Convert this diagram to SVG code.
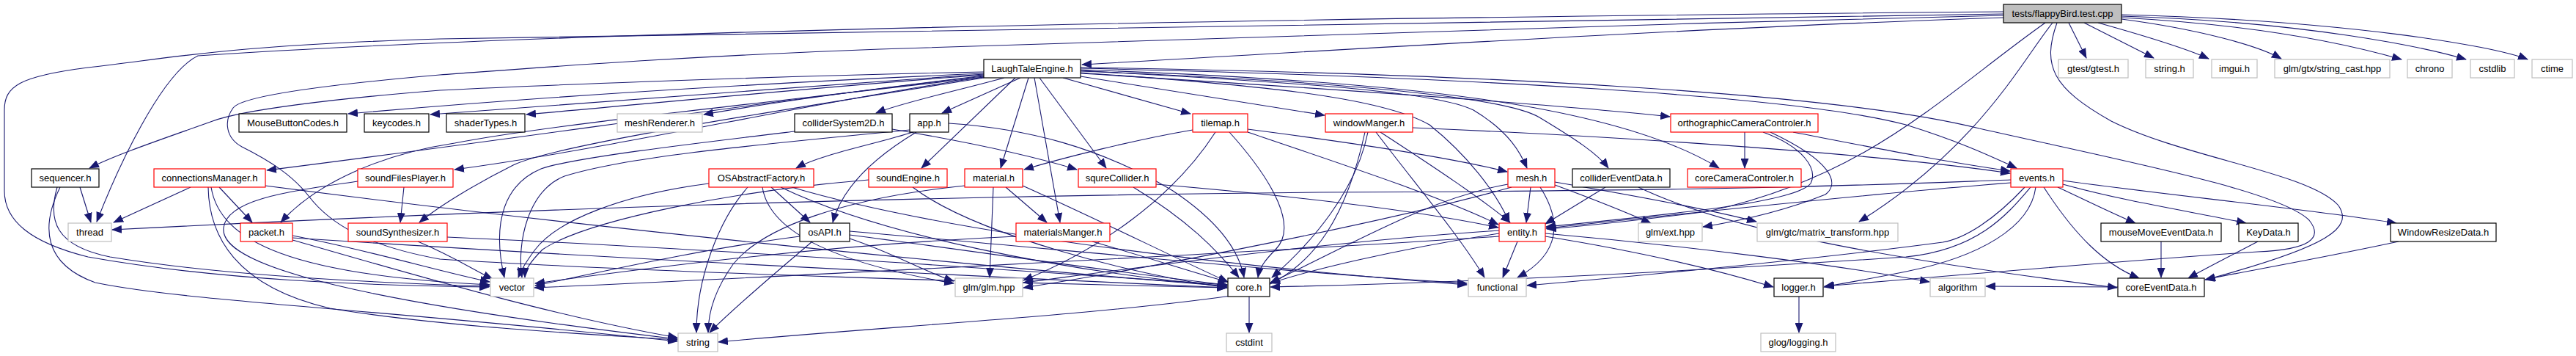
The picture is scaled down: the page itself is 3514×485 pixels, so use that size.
<svg xmlns="http://www.w3.org/2000/svg" width="3514" height="485" viewBox="0 0 3514 485">
<style>
rect{fill:#fff;stroke-width:1.2}
.b{stroke:#000}
.g{stroke:#bfbfbf}
.r{stroke:#ff0000}
.root{fill:#bfbfbf;stroke:#000}
text{font-family:"Liberation Sans",Arial,Helvetica,sans-serif;font-size:13px;text-anchor:middle;fill:#000}
#edges path{fill:none;stroke:#191970;stroke-width:1.1;marker-end:url(#a)}
</style>
<defs>
<marker id="a" markerUnits="userSpaceOnUse" markerWidth="14" markerHeight="11" refX="13" refY="5.5" orient="auto"><path d="M0,0 L14,5.5 L0,11 z" fill="#191970" stroke="none"/></marker>
</defs>
<rect x="0" y="0" width="3514" height="485" style="fill:#fff;stroke:none"/>
<g id="edges">
<!-- root -->
<path d="M2733,24 C2300,38 1800,70 1476,88"/>
<path d="M2822,31 L2846,79"/>
<path d="M2843,31 L2938,79"/>
<path d="M2862,31 C2930,50 2980,65 3013,80"/>
<path d="M2894,26 C3000,40 3080,62 3112,80"/>
<path d="M2894,24 C3100,35 3220,65 3276,81"/>
<path d="M2894,22 C3150,30 3310,65 3364,81"/>
<path d="M2894,20 C3200,28 3400,62 3448,81"/>
<path d="M2733,16 C1800,24 800,40 270,76 C220,100 160,230 132,302"/>
<path d="M2733,19 C1800,28 900,46 600,53 C300,62 230,80 120,92 C25,104 6,118 6,150 L6,260 C6,300 40,330 120,350 C300,382 500,389 667,391"/>
<path d="M2733,21 C2200,33 1600,55 1200,67 C900,78 700,95 600,102 C450,115 330,130 318,147 C305,165 308,188 330,200 C370,220 400,240 421,267 C450,305 500,335 600,353 C900,372 1400,386 1673,392"/>
<path d="M2800,31 C2760,80 2700,200 2536,302"/>
<path d="M2790,31 C2650,130 2550,240 2330,288 C2220,302 2160,308 2110,312"/>
<path d="M2806,31 C2785,90 2800,120 2880,165 C2980,215 3150,235 3190,280 C3210,310 3180,335 3009,381"/>
<!-- LaughTaleEngine.h -->
<path d="M1342,98 C1000,105 700,118 600,123 C450,135 330,150 290,165 C220,190 160,210 122,229"/>
<path d="M1342,100 C1000,115 700,135 475,155"/>
<path d="M1342,101 C1100,118 800,140 587,156"/>
<path d="M1342,102 C1100,120 900,140 718,156"/>
<path d="M1342,103 C1200,120 1050,140 960,156"/>
<path d="M1370,106 C1300,125 1230,140 1195,154"/>
<path d="M1392,106 L1285,154"/>
<path d="M1342,104 C1100,130 700,190 364,232"/>
<path d="M1342,105 C1100,140 850,200 620,231"/>
<path d="M1342,105 C1000,145 750,170 620,195 C520,210 430,250 383,303"/>
<path d="M1342,106 C1000,160 750,200 700,225 C650,250 600,280 572,303"/>
<path d="M1385,106 L1257,229"/>
<path d="M1403,106 L1365,229"/>
<path d="M1411,106 L1446,303"/>
<path d="M1418,106 L1509,229"/>
<path d="M1450,106 L1624,155"/>
<path d="M1474,104 L1807,157"/>
<path d="M1474,100 C1800,120 2100,140 2278,159"/>
<path d="M1474,96 C1700,110 1950,120 2010,150 C2060,180 2075,210 2083,229"/>
<path d="M1474,97 C1800,110 2050,130 2100,160 C2150,190 2180,210 2194,229"/>
<path d="M1474,95 C1900,110 2200,140 2345,229"/>
<path d="M1474,93 C2000,105 2450,130 2600,170 C2680,195 2720,215 2751,229"/>
<path d="M1474,99 C1700,115 1880,130 1950,170 C2000,210 2040,260 2059,303"/>
<path d="M1474,92 C2000,100 2500,125 2700,175 C2900,220 3110,260 3150,300 C3170,325 3150,340 3080,343 C2900,355 2700,372 2489,390"/>
<!-- app.h -->
<path d="M1245,180 C1200,195 1120,210 1086,229"/>
<path d="M1250,180 C1200,210 1150,250 1136,303"/>
<path d="M1294,168 C1400,175 1500,200 1600,260 C1660,300 1690,340 1697,378"/>
<path d="M1241,177 C1000,200 850,215 770,240 C720,260 705,330 712,378"/>
<!-- colliderSystem2D.h -->
<path d="M1217,176 C1300,190 1400,210 1469,231"/>
<path d="M1084,179 C950,195 780,215 738,230 C690,250 670,300 688,378"/>
<!-- OSAbstractFactory.h -->
<path d="M967,250 C850,265 760,300 730,340 C715,360 710,370 707,378"/>
<path d="M1020,255 C980,300 950,380 950,453"/>
<path d="M1052,255 L1105,303"/>
<path d="M1040,255 C1050,320 1150,360 1301,386"/>
<path d="M1065,255 C1200,320 1450,370 1674,390"/>
<path d="M1080,255 C1300,320 1700,365 2001,388"/>
<!-- osAPI.h -->
<path d="M1091,322 C950,340 800,375 730,389"/>
<path d="M1108,329 C1060,370 1000,420 968,453"/>
<path d="M1159,325 C1220,345 1260,370 1301,383"/>
<path d="M1159,320 C1350,345 1550,375 1674,388"/>
<path d="M1159,315 C1450,340 1800,375 2001,386"/>
<!-- soundEngine.h -->
<path d="M1185,245 C1000,260 800,300 740,340 C720,360 716,370 716,378"/>
<path d="M1245,255 C1330,320 1550,375 1674,392"/>
<!-- material.h -->
<path d="M1355,255 L1350,378"/>
<path d="M1372,255 L1428,303"/>
<path d="M1395,253 C1500,300 1600,350 1675,384"/>
<path d="M1316,253 C1150,270 1040,310 1000,360 C975,395 966,425 966,453"/>
<!-- squreCollider.h -->
<path d="M1546,255 C1620,300 1660,340 1690,378"/>
<path d="M1577,251 C1800,270 1950,290 2044,310"/>
<!-- materialsManger.h -->
<path d="M1386,322 C1100,335 850,370 730,386"/>
<path d="M1490,329 C1580,355 1640,375 1675,384"/>
<!-- tilemap.h -->
<path d="M1627,177 C1550,190 1450,215 1397,231"/>
<path d="M1658,180 C1600,270 1500,340 1396,382"/>
<path d="M1677,180 C1740,250 1770,310 1740,340 C1725,355 1718,365 1716,378"/>
<path d="M1702,176 C1850,195 1980,215 2056,234"/>
<path d="M1702,180 C1850,230 1970,270 2044,306"/>
<!-- windowManger.h -->
<path d="M1927,174 C2300,190 2600,215 2742,236"/>
<path d="M1883,180 C1960,230 2020,270 2060,303"/>
<path d="M1877,180 C1930,250 1990,320 2025,378"/>
<path d="M1866,180 C1850,260 1790,330 1735,378"/>
<path d="M1862,180 C1840,280 1800,370 1700,400 C1500,430 1200,445 980,466"/>
<!-- mesh.h -->
<path d="M2088,255 L2082,303"/>
<path d="M2101,255 C2130,300 2130,345 2070,378"/>
<path d="M2121,252 C2170,270 2220,290 2252,304"/>
<path d="M2121,248 C2250,270 2350,290 2396,302"/>
<path d="M2057,251 C1950,270 1850,330 1733,385"/>
<path d="M2062,255 C1900,300 1600,360 1396,392"/>
<!-- colliderEventData.h -->
<path d="M2190,255 L2108,305"/>
<path d="M2235,255 C2350,310 2550,350 2888,392"/>
<!-- orthographicCameraControler.h -->
<path d="M2380,180 L2380,229"/>
<path d="M2446,180 C2550,200 2650,220 2742,233"/>
<path d="M2405,180 C2460,200 2480,230 2470,250 C2450,275 2300,290 2109,309"/>
<path d="M2415,180 C2500,220 2510,250 2490,265 C2440,285 2380,300 2323,309"/>
<!-- events.h -->
<path d="M2807,255 C2850,275 2880,290 2913,304"/>
<path d="M2814,251 C2900,275 3000,290 3064,304"/>
<path d="M2814,246 C2950,265 3150,285 3269,304"/>
<path d="M2788,255 C2830,320 2870,360 2918,379"/>
<path d="M2777,255 C2770,310 2700,350 2600,370 C2550,380 2520,385 2488,391"/>
<path d="M2762,255 C2720,300 2680,325 2650,330 C2500,350 2300,370 2083,389"/>
<path d="M2770,255 C2740,290 2700,340 2600,350 C2300,370 2000,385 1733,391"/>
<path d="M2743,249 C2600,260 2400,280 2109,311"/>
<path d="M2743,245 C2600,250 2400,260 1800,262 C1200,268 700,285 153,313"/>
<!-- entity.h -->
<path d="M2070,329 L2050,378"/>
<path d="M2045,318 C1900,340 1780,370 1733,386"/>
<path d="M2045,314 C1800,330 1550,365 1396,385"/>
<path d="M2108,322 C2250,345 2350,370 2419,391"/>
<path d="M2108,318 C2300,335 2500,360 2632,384"/>
<path d="M2045,322 C1700,345 1000,380 729,392"/>
<!-- leaves-ish -->
<path d="M1704,404 L1704,453"/>
<path d="M2454,404 L2454,453"/>
<path d="M2889,391 L2709,390"/>
<path d="M2948,329 L2948,378"/>
<path d="M3080,329 C3040,350 3010,365 2985,379"/>
<path d="M3272,329 C3150,355 3060,370 3008,381"/>
<!-- sequencer.h -->
<path d="M109,255 L124,303"/>
<path d="M78,255 C65,300 75,335 150,350 C300,375 500,385 668,390"/>
<path d="M82,255 C55,310 60,360 130,385 C250,410 500,420 924,465"/>
<!-- connectionsManager.h -->
<path d="M260,255 L155,303"/>
<path d="M299,255 L344,303"/>
<path d="M284,255 C285,320 320,390 450,420 C600,445 800,455 924,463"/>
<path d="M288,255 C300,330 400,375 668,388"/>
<path d="M362,253 C800,310 1300,360 1674,390"/>
<!-- packet.h -->
<path d="M399,321 C500,340 600,370 668,384"/>
<path d="M399,327 C550,370 750,430 924,460"/>
<path d="M399,324 C800,350 1300,375 1674,392"/>
<!-- soundFilesPlayer.h -->
<path d="M551,255 L546,303"/>
<path d="M488,247 C400,260 310,270 305,310 C300,350 400,400 924,462"/>
<!-- soundSynthesizer.h -->
<path d="M570,329 C620,350 650,370 672,380"/>
<path d="M610,323 C1000,340 1400,370 1674,388"/>
</g>
<g id="n_root"><rect class="root" x="2733" y="6" width="161" height="25"/><text x="2813.5" y="23">tests/flappyBird.test.cpp</text></g>
<g id="n_lte"><rect class="b" x="1342" y="81" width="132" height="25"/><text x="1408" y="98">LaughTaleEngine.h</text></g>
<g id="n_gtest"><rect class="g" x="2808" y="81" width="95" height="25"/><text x="2855.5" y="98">gtest/gtest.h</text></g>
<g id="n_stringh"><rect class="g" x="2927" y="81" width="65" height="25"/><text x="2959.5" y="98">string.h</text></g>
<g id="n_imgui"><rect class="g" x="3017" y="81" width="62" height="25"/><text x="3048" y="98">imgui.h</text></g>
<g id="n_strcast"><rect class="g" x="3103" y="81" width="157" height="25"/><text x="3181.5" y="98">glm/gtx/string_cast.hpp</text></g>
<g id="n_chrono"><rect class="g" x="3284" y="81" width="61" height="25"/><text x="3314.5" y="98">chrono</text></g>
<g id="n_cstdlib"><rect class="g" x="3370" y="81" width="60" height="25"/><text x="3400" y="98">cstdlib</text></g>
<g id="n_ctime"><rect class="g" x="3454" y="81" width="55" height="25"/><text x="3481.5" y="98">ctime</text></g>
<g id="n_mbc"><rect class="b" x="326" y="155" width="147" height="25"/><text x="399.5" y="172">MouseButtonCodes.h</text></g>
<g id="n_keycodes"><rect class="b" x="497" y="155" width="88" height="25"/><text x="541" y="172">keycodes.h</text></g>
<g id="n_shader"><rect class="b" x="609" y="155" width="107" height="25"/><text x="662.5" y="172">shaderTypes.h</text></g>
<g id="n_meshr"><rect class="g" x="842" y="155" width="116" height="25"/><text x="900" y="172">meshRenderer.h</text></g>
<g id="n_colsys"><rect class="b" x="1084" y="155" width="133" height="25"/><text x="1150.5" y="172">colliderSystem2D.h</text></g>
<g id="n_app"><rect class="b" x="1241" y="155" width="53" height="25"/><text x="1267.5" y="172">app.h</text></g>
<g id="n_tilemap"><rect class="r" x="1627" y="155" width="75" height="25"/><text x="1664.5" y="172">tilemap.h</text></g>
<g id="n_windowm"><rect class="r" x="1808" y="155" width="119" height="25"/><text x="1867.5" y="172">windowManger.h</text></g>
<g id="n_ortho"><rect class="r" x="2279" y="155" width="201" height="25"/><text x="2379.5" y="172">orthographicCameraControler.h</text></g>
<g id="n_seq"><rect class="b" x="43" y="230" width="92" height="25"/><text x="89" y="247">sequencer.h</text></g>
<g id="n_connm"><rect class="r" x="210" y="230" width="152" height="25"/><text x="286" y="247">connectionsManager.h</text></g>
<g id="n_sfp"><rect class="r" x="488" y="230" width="130" height="25"/><text x="553" y="247">soundFilesPlayer.h</text></g>
<g id="n_osaf"><rect class="r" x="967" y="230" width="143" height="25"/><text x="1038.5" y="247">OSAbstractFactory.h</text></g>
<g id="n_seng"><rect class="r" x="1185" y="230" width="107" height="25"/><text x="1238.5" y="247">soundEngine.h</text></g>
<g id="n_material"><rect class="r" x="1316" y="230" width="79" height="25"/><text x="1355.5" y="247">material.h</text></g>
<g id="n_squre"><rect class="r" x="1471" y="230" width="106" height="25"/><text x="1524" y="247">squreCollider.h</text></g>
<g id="n_mesh"><rect class="r" x="2057" y="230" width="64" height="25"/><text x="2089" y="247">mesh.h</text></g>
<g id="n_colev"><rect class="b" x="2145" y="230" width="133" height="25"/><text x="2211.5" y="247">colliderEventData.h</text></g>
<g id="n_corecam"><rect class="r" x="2302" y="230" width="155" height="25"/><text x="2379.5" y="247">coreCameraControler.h</text></g>
<g id="n_events"><rect class="r" x="2743" y="230" width="71" height="25"/><text x="2778.5" y="247">events.h</text></g>
<g id="n_thread"><rect class="g" x="93" y="304" width="59" height="25"/><text x="122.5" y="321">thread</text></g>
<g id="n_packet"><rect class="r" x="328" y="304" width="71" height="25"/><text x="363.5" y="321">packet.h</text></g>
<g id="n_ssynth"><rect class="r" x="475" y="304" width="135" height="25"/><text x="542.5" y="321">soundSynthesizer.h</text></g>
<g id="n_osapi"><rect class="b" x="1091" y="304" width="68" height="25"/><text x="1125" y="321">osAPI.h</text></g>
<g id="n_matmgr"><rect class="r" x="1386" y="304" width="128" height="25"/><text x="1450" y="321">materialsManger.h</text></g>
<g id="n_entity"><rect class="r" x="2045" y="304" width="63" height="25"/><text x="2076.5" y="321">entity.h</text></g>
<g id="n_glmext"><rect class="g" x="2235" y="304" width="87" height="25"/><text x="2278.5" y="321">glm/ext.hpp</text></g>
<g id="n_mtx"><rect class="g" x="2397" y="304" width="192" height="25"/><text x="2493" y="321">glm/gtc/matrix_transform.hpp</text></g>
<g id="n_mousemove"><rect class="b" x="2866" y="304" width="164" height="25"/><text x="2948" y="321">mouseMoveEventData.h</text></g>
<g id="n_keydata"><rect class="b" x="3054" y="304" width="81" height="25"/><text x="3094.5" y="321">KeyData.h</text></g>
<g id="n_winresize"><rect class="b" x="3261" y="304" width="144" height="25"/><text x="3333" y="321">WindowResizeData.h</text></g>
<g id="n_vector"><rect class="g" x="669" y="379" width="59" height="25"/><text x="698.5" y="396">vector</text></g>
<g id="n_glm"><rect class="g" x="1303" y="379" width="92" height="25"/><text x="1349" y="396">glm/glm.hpp</text></g>
<g id="n_core"><rect class="b" x="1675" y="379" width="57" height="25"/><text x="1703.5" y="396">core.h</text></g>
<g id="n_functional"><rect class="g" x="2003" y="379" width="79" height="25"/><text x="2042.5" y="396">functional</text></g>
<g id="n_logger"><rect class="b" x="2420" y="379" width="67" height="25"/><text x="2453.5" y="396">logger.h</text></g>
<g id="n_algorithm"><rect class="g" x="2633" y="379" width="75" height="25"/><text x="2670.5" y="396">algorithm</text></g>
<g id="n_coreev"><rect class="b" x="2889" y="379" width="118" height="25"/><text x="2948" y="396">coreEventData.h</text></g>
<g id="n_string"><rect class="g" x="925" y="454" width="54" height="25"/><text x="952" y="471">string</text></g>
<g id="n_cstdint"><rect class="g" x="1673" y="454" width="62" height="25"/><text x="1704" y="471">cstdint</text></g>
<g id="n_glog"><rect class="g" x="2402" y="454" width="102" height="25"/><text x="2453" y="471">glog/logging.h</text></g>
</svg>
